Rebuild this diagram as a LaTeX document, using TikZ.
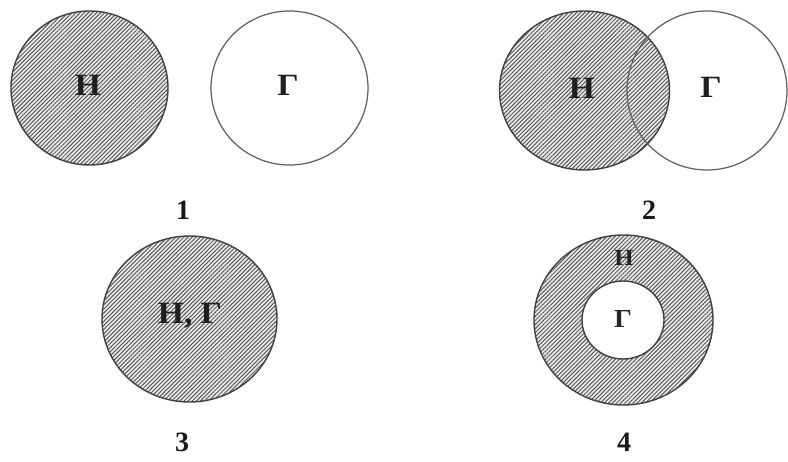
\documentclass[tikz,border=0pt]{standalone}
\usepackage{fontspec}
\setmainfont{Liberation Serif}
\usetikzlibrary{patterns.meta}
\tikzset{
  hatched/.style={fill=gray!15, postaction={pattern={Lines[angle=45,distance=2.9pt,line width=1.0pt]}, pattern color=black!65}},
  rim/.style={draw=black!75, line width=1.4pt},
  lightrim/.style={draw=black!62, line width=1.25pt},
  lbl/.style={font=\bfseries\fontsize{31}{31}\selectfont, inner sep=0pt, text=black!88, xscale=1.08},
  smalllbl/.style={font=\bfseries\fontsize{23}{23}\selectfont, inner sep=0pt, text=black!85, xscale=1.08},
  num/.style={font=\bfseries\fontsize{28}{28}\selectfont, inner sep=0pt, text=black!90}
}
\begin{document}
\begin{tikzpicture}[x=1pt,y=-1pt]
\useasboundingbox (0,0) rectangle (788,462);
\fill[white] (0,0) rectangle (788,462);
% diagram 1
\path[hatched] (89.5,88) ellipse [x radius=78.5, y radius=77];
\draw[rim] (89.5,88) ellipse [x radius=78.5, y radius=77];
\draw[lightrim] (289.5,88) ellipse [x radius=78.5, y radius=77];
\node[lbl] (h1) at (88,85) {Н};
\node[lbl] (g1) at (288,85) {Г};
\node[num] (n1) at (183,210) {1};
% diagram 2
\path[hatched] (584.5,90.5) ellipse [x radius=85, y radius=79.5];
\draw[rim] (584.5,90.5) ellipse [x radius=85, y radius=79.5];
\draw[lightrim] (707,90.5) ellipse [x radius=80, y radius=79.5];
\node[lbl] (h2) at (582,88) {Н};
\node[lbl] (g2) at (711,87) {Г};
\node[num] (n2) at (649,210) {2};
% diagram 3
\path[hatched] (189.5,319) ellipse [x radius=87.5, y radius=83];
\draw[rim] (189.5,319) ellipse [x radius=87.5, y radius=83];
\node[lbl] (hg3) at (190,316) {Н, Г};
\node[num] (n3) at (182,442) {3};
% diagram 4
\path[hatched] (623.5,320) ellipse [x radius=89.5, y radius=85];
\draw[rim] (623.5,320) ellipse [x radius=89.5, y radius=85];
\filldraw[fill=white, draw=black!75, line width=1.4pt] (623,320) ellipse [x radius=41, y radius=39];
\node[smalllbl] (h4) at (624,258) {Н};
\node[smalllbl, font=\bfseries\fontsize{26}{26}\selectfont] (g4) at (623,319) {Г};
\node[num] (n4) at (624,442) {4};
\end{tikzpicture}
\end{document}
